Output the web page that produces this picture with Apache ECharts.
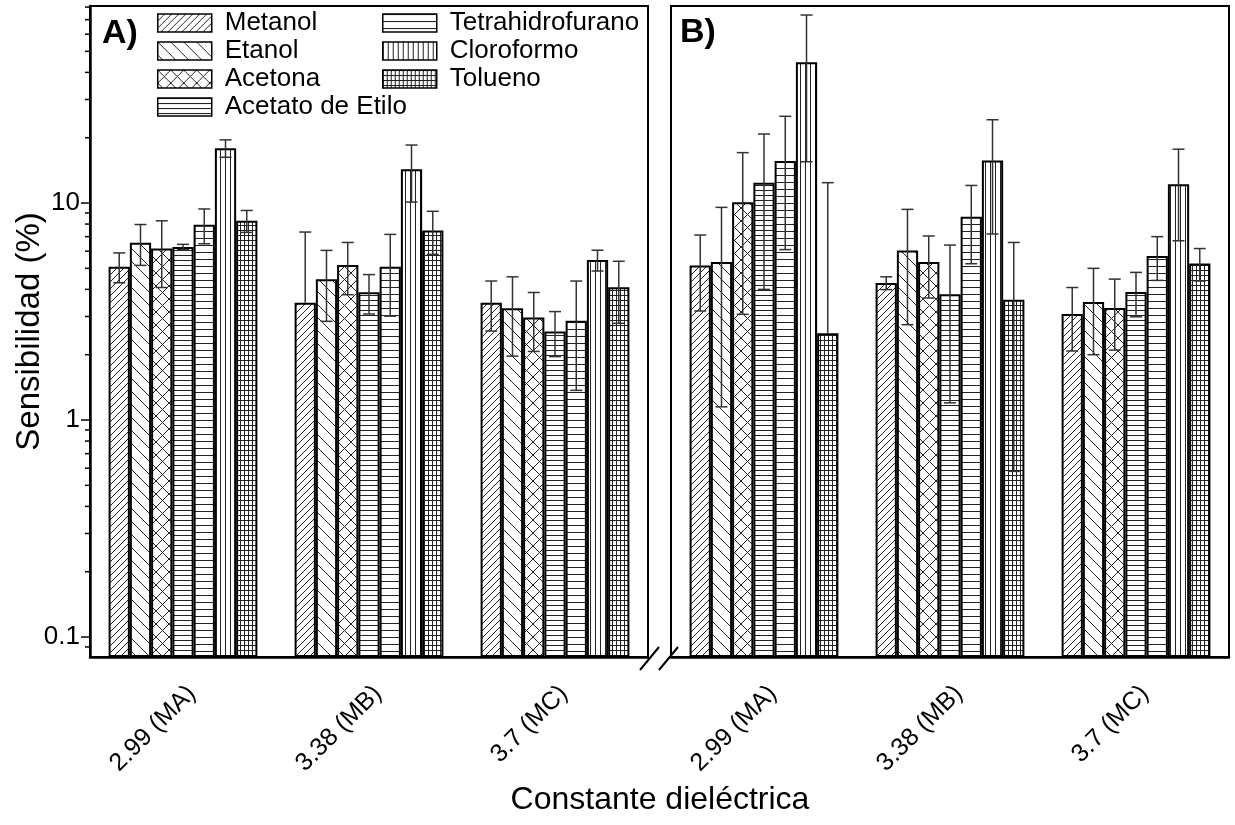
<!DOCTYPE html>
<html>
<head>
<meta charset="utf-8">
<script src="https://cdn.jsdelivr.net/npm/echarts@6/dist/echarts.min.js"></script>
<style>
  html, body { margin: 0; padding: 0; background: #fff; }
  #chart { width: 1235px; height: 825px; }
</style>
</head>
<body>
<div id="chart"></div>
<script>
// ---- data ----
const categories = ['2.99 (MA)', '3.38 (MB)', '3.7 (MC)'];
const solvents = ['Metanol', 'Etanol', 'Acetona', 'Acetato de Etilo', 'Tetrahidrofurano', 'Cloroformo', 'Tolueno'];

// panel A, one array per category (order = solvents)
const valsA_MA = [5.09, 6.56, 6.18, 6.27, 7.94, 17.9, 8.28];
const errA_MA  = [0.8, 1.4, 2.1, 0.18, 1.45, 1.65, 0.96];
const valsA_MB = [3.47, 4.45, 5.18, 3.88, 5.09, 14.3, 7.48];
const errA_MB  = [3.88, 1.6, 1.4, 0.8, 2.08, 4.2, 1.68];
const valsA_MC = [3.47, 3.27, 2.97, 2.56, 2.87, 5.46, 4.09];
const errA_MC  = [0.9, 1.3, 0.9, 0.6, 1.5, 0.6, 1.3];

// panel B
const valsB_MA = [5.15, 5.35, 10.07, 12.4, 15.6, 44.5, 2.51];
const errB_MA  = [1.97, 4.2, 7.0, 8.4, 9.5, 29, 9.9];
const valsB_MB = [4.28, 6.05, 5.35, 3.8, 8.65, 15.7, 3.58];
const errB_MB  = [0.29, 3.3, 1.7, 2.6, 3.4, 8.5, 3.0];
const valsB_MC = [3.08, 3.5, 3.28, 3.89, 5.7, 12.2, 5.27];
const errB_MC  = [1.0, 1.5, 1.18, 0.9, 1.3, 5.5, 0.9];

const yTickLabels = ['0.1', '1', '10'];
const yMajorTicks = [0.1, 1, 10];
const yMinorTicks = [0.09, 0.2, 0.3, 0.4, 0.5, 0.6, 0.7, 0.8, 0.9,
                     2, 3, 4, 5, 6, 7, 8, 9, 20, 30, 40, 50, 60, 70, 80];
const yMin = 0.0809, yMax = 80.9;

const FONT = 'Liberation Sans, Arial, sans-serif';

// hatch patterns (like the Origin fills)
function hatch(kind) {
  const sizes = { slash: [7, 7], back: [13, 13], cross: [13, 13], h5: [4, 5], h7: [4, 7], v5: [5, 4], grid: [4, 5] };
  const [w, h] = sizes[kind];
  const c = document.createElement('canvas');
  c.width = w; c.height = h;
  const g = c.getContext('2d');
  g.fillStyle = '#fff';
  g.fillRect(0, 0, w, h);
  g.strokeStyle = '#222';
  g.fillStyle = '#222';
  g.lineWidth = 1;
  if (kind === 'slash' || kind === 'cross') {
    g.beginPath();
    [-w, 0, w].forEach(k => { g.moveTo(k, h); g.lineTo(k + w, 0); });
    g.stroke();
  }
  if (kind === 'back' || kind === 'cross') {
    g.beginPath();
    [-w, 0, w].forEach(k => { g.moveTo(k, 0); g.lineTo(k + w, h); });
    g.stroke();
  }
  if (kind === 'h5' || kind === 'h7' || kind === 'grid') g.fillRect(0, 0, w, 1);
  if (kind === 'v5' || kind === 'grid') g.fillRect(0, 0, 1, h);
  return { image: c, repeat: 'repeat' };
}
const patterns = ['slash', 'back', 'cross', 'h5', 'h7', 'v5', 'grid'].map(hatch);

function barSeries(p, rows) {
  return solvents.map((name, i) => ({
    type: 'bar',
    name: name,
    xAxisIndex: p,
    yAxisIndex: p,
    data: rows.map(r => r[i]),
    barGap: '0%',
    barCategoryGap: '20%',
    itemStyle: { color: patterns[i], borderColor: '#000', borderWidth: 2 },
    emphasis: { disabled: true }
  }));
}

function errSeries(p, rows, errs) {
  const data = [];
  rows.forEach((r, c) => r.forEach((v, i) => data.push([c, i, v, errs[c][i]])));
  return {
    type: 'custom',
    xAxisIndex: p,
    yAxisIndex: p,
    z: 5,
    silent: true,
    encode: { x: 0, y: 2 },
    data: data,
    renderItem: function (params, api) {
      const c = api.value(0), i = api.value(1), v = api.value(2), e = api.value(3);
      const band = api.size([1, 0])[0];
      const bw = band * 0.8 / 7;
      const x = api.coord([c, v])[0] + (i - 3) * bw;
      const yBar = api.coord([c, v])[1];
      const yHi = api.coord([c, v + e])[1];
      const lo = v - e;
      const yLo = lo > 0 ? api.coord([c, lo])[1] : yBar;
      const st = { stroke: '#333', lineWidth: 1.5 };
      const kids = [
        { type: 'line', shape: { x1: x, y1: yHi, x2: x, y2: yLo }, style: st },
        { type: 'line', shape: { x1: x - 6, y1: yHi, x2: x + 6, y2: yHi }, style: st }
      ];
      if (lo > 0) kids.push({ type: 'line', shape: { x1: x - 6, y1: yLo, x2: x + 6, y2: yLo }, style: st });
      return { type: 'group', children: kids };
    }
  };
}

function tickSeries(values, len) {
  return {
    type: 'custom',
    xAxisIndex: 0,
    yAxisIndex: 0,
    silent: true,
    clip: false,
    encode: { x: 0, y: 1 },
    data: values.map(v => [0, v]),
    renderItem: function (params, api) {
      const y = api.coord([0, api.value(1)])[1];
      const x0 = params.coordSys.x;
      return { type: 'line', shape: { x1: x0 - len, y1: y, x2: x0, y2: y }, style: { stroke: '#000', lineWidth: 1.5 } };
    }
  };
}

const rowsA = [valsA_MA, valsA_MB, valsA_MC];
const rowsB = [valsB_MA, valsB_MB, valsB_MC];

function xAxis(p) {
  return {
    type: 'category',
    gridIndex: p,
    data: categories,
    axisLine: { lineStyle: { color: '#000', width: 2.5 } },
    axisTick: { alignWithLabel: true, length: 11, lineStyle: { color: '#000', width: 1.5 } },
    axisLabel: { rotate: 45, margin: 24, verticalAlign: 'top', fontSize: 25, color: '#000', fontFamily: FONT }
  };
}

function yAxis(p) {
  return {
    type: 'log',
    gridIndex: p,
    min: yMin,
    max: yMax,
    startValue: yMin,
    show: p === 0,
    name: p === 0 ? 'Sensibilidad (%)' : '',
    nameLocation: 'middle',
    nameGap: 44,
    nameMoveOverlap: false,
    nameTextStyle: { fontSize: 33, color: '#000', fontFamily: FONT },
    axisLine: { show: true, lineStyle: { color: '#000', width: 2.5 } },
    axisTick: { show: false },
    splitLine: { show: false },
    axisLabel: {
      fontSize: 26, color: '#000', fontFamily: FONT, margin: 10,
      formatter: v => { const s = String(+(+v).toPrecision(6)); return yTickLabels.includes(s) ? s : ''; }
    }
  };
}

const legendBase = {
  orient: 'vertical',
  itemWidth: 54,
  itemHeight: 18,
  itemGap: 0,
  selectedMode: false,
  icon: 'rect',
  itemStyle: { borderWidth: 1.5, borderColor: '#000' },
  textStyle: { fontSize: 26, lineHeight: 28, color: '#000', fontFamily: FONT, padding: [0, 0, 0, 8] }
};

const chart = echarts.init(document.getElementById('chart'));
chart.setOption({
  animation: false,
  backgroundColor: '#fff',
  grid: [
    { left: 90, top: 6, width: 558, height: 651, show: true, borderColor: '#000', borderWidth: 2, outerBoundsMode: 'none' },
    { left: 671, top: 6, width: 558, height: 651, show: true, borderColor: '#000', borderWidth: 2, outerBoundsMode: 'none' }
  ],
  legend: [
    Object.assign({ left: 152, top: 4, data: solvents.slice(0, 4) }, legendBase),
    Object.assign({ left: 377, top: 4, data: solvents.slice(4) }, legendBase)
  ],
  xAxis: [xAxis(0), xAxis(1)],
  yAxis: [yAxis(0), yAxis(1)],
  graphic: [
    { type: 'text', left: 102, top: 17, style: { text: 'A)', font: 'bold 34px ' + FONT, fill: '#000' } },
    { type: 'text', left: 680, top: 16, style: { text: 'B)', font: 'bold 34px ' + FONT, fill: '#000' } },
    { type: 'text', x: 660, y: 800, style: { text: 'Constante dieléctrica', font: '32px ' + FONT, fill: '#000', align: 'center', verticalAlign: 'middle' } },
    { type: 'line', shape: { x1: 640, y1: 670, x2: 659, y2: 647 }, style: { stroke: '#000', lineWidth: 2 } },
    { type: 'line', shape: { x1: 659, y1: 670, x2: 678, y2: 647 }, style: { stroke: '#000', lineWidth: 2 } }
  ],
  series: [].concat(
    barSeries(0, rowsA),
    barSeries(1, rowsB),
    [errSeries(0, rowsA, [errA_MA, errA_MB, errA_MC]),
     errSeries(1, rowsB, [errB_MA, errB_MB, errB_MC]),
     tickSeries(yMajorTicks, 9),
     tickSeries(yMinorTicks, 5)]
  )
});
</script>
</body>
</html>
